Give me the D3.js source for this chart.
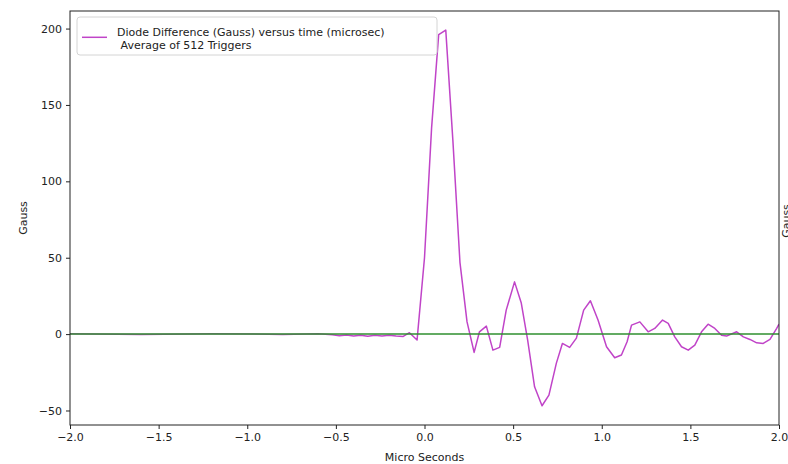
<!DOCTYPE html>
<html>
<head>
<meta charset="utf-8">
<script src="https://cdn.jsdelivr.net/npm/d3@7"></script>
<style>
  body { margin: 0; background: #fff; }
  text { font-family: "DejaVu Sans", sans-serif; }
</style>
</head>
<body>
<div id="vis"></div>
<script>
// sample times (microsec) and diode difference (Gauss)
var times = [
  -2.0, -1.6, -1.2, -0.8, -0.6, -0.52, -0.48, -0.44, -0.40, -0.36, -0.32, -0.28,
  -0.24, -0.20, -0.16, -0.12, -0.085, -0.042,
  0.0, 0.04, 0.08, 0.12, 0.16, 0.20, 0.24, 0.28, 0.31, 0.349, 0.386, 0.424,
  0.461, 0.508, 0.546, 0.582, 0.621, 0.663, 0.702, 0.744, 0.778, 0.819, 0.857,
  0.898, 0.936, 0.979, 1.027, 1.073, 1.111, 1.143, 1.168, 1.215, 1.262, 1.299,
  1.343, 1.375, 1.412, 1.45, 1.488, 1.525, 1.563, 1.6, 1.638, 1.676, 1.704,
  1.761, 1.799, 1.836, 1.874, 1.911, 1.949, 1.987, 2.0
];
var gauss = [
  0.2, -0.2, 0.3, -0.2, 0.2, -0.5, -1.0, -0.6, -1.3, -0.7, -1.4, -0.8,
  -1.2, -0.7, -1.3, -1.5, 0.9, -3.9,
  50, 135, 196, 199, 127, 47, 8, -12, 1.5, 5.2, -10.5, -8.7,
  15.7, 34.2, 20.3, -4, -34.5, -46.9, -39.9, -19, -6.1, -8.7, -2.6,
  15.7, 21.8, 9.2, -8.3, -15.5, -13.7, -5, 5.9, 8, 1.5, 3.7,
  9.2, 7, -1.8, -8.3, -10.5, -7.2, 1.5, 6.5, 3.7, -0.7, -1.3,
  1.5, -1.8, -3.5, -5.7, -6.1, -3.5, 3.7, 6.5
];
var xTicks = [-2.0, -1.5, -1.0, -0.5, 0.0, 0.5, 1.0, 1.5, 2.0];
var yTicks = [-50, 0, 50, 100, 150, 200];
var legendLines = ['Diode Difference (Gauss) versus time (microsec)', ' Average of 512 Triggers'];

var width = 788, height = 464;
var plot = { left: 70, right: 779, top: 11, bottom: 425 };

var x = d3.scaleLinear().domain([-2, 2]).range([plot.left, plot.right]);
var y = d3.scaleLinear().domain([-59.5, 211.5]).range([plot.bottom, plot.top]);

var svg = d3.select('#vis').append('svg')
  .attr('width', width)
  .attr('height', height);

var data = times.map(function (t, i) { return { t: t, v: gauss[i] }; });

svg.append('defs').append('clipPath').attr('id', 'clip')
  .append('rect')
  .attr('x', plot.left).attr('y', plot.top)
  .attr('width', plot.right - plot.left)
  .attr('height', plot.bottom - plot.top);

var line = d3.line()
  .x(function (d) { return x(d.t); })
  .y(function (d) { return y(d.v); });

svg.append('path')
  .datum(data)
  .attr('clip-path', 'url(#clip)')
  .attr('fill', 'none')
  .attr('stroke', '#c044c8')
  .attr('stroke-width', 1.5)
  .attr('stroke-linejoin', 'round')
  .attr('d', line);

// zero line, drawn over the trace
svg.append('line')
  .attr('x1', x(-2)).attr('x2', x(2))
  .attr('y1', y(0)).attr('y2', y(0))
  .attr('stroke', '#2f8f2f')
  .attr('stroke-width', 1.5);

var fmt = d3.format('.1f');

var xAxis = svg.append('g')
  .attr('transform', 'translate(0,' + plot.bottom + ')')
  .call(d3.axisBottom(x).tickValues(xTicks).tickFormat(fmt).tickSize(4).tickPadding(4).tickSizeOuter(0));

var yAxis = svg.append('g')
  .attr('transform', 'translate(' + plot.left + ',0)')
  .call(d3.axisLeft(y).tickValues(yTicks).tickSize(4).tickPadding(4).tickSizeOuter(0));

[xAxis, yAxis].forEach(function (g) {
  g.select('.domain').remove();
  g.selectAll('line').attr('stroke', '#222');
  g.selectAll('text').attr('fill', '#222').style('font-size', '11px')
    .style('font-family', '"DejaVu Sans", sans-serif');
});

// frame
svg.append('rect')
  .attr('x', plot.left).attr('y', plot.top)
  .attr('width', plot.right - plot.left)
  .attr('height', plot.bottom - plot.top)
  .attr('fill', 'none')
  .attr('stroke', '#222')
  .attr('stroke-width', 1);

svg.append('text')
  .attr('x', (plot.left + plot.right) / 2)
  .attr('y', 461)
  .attr('text-anchor', 'middle')
  .attr('fill', '#222')
  .style('font-size', '11px')
  .text('Micro Seconds');

svg.append('text')
  .attr('transform', 'translate(27,' + (plot.top + plot.bottom) / 2 + ') rotate(-90)')
  .attr('text-anchor', 'middle')
  .attr('fill', '#222')
  .style('font-size', '11px')
  .text('Gauss');

// twin axis label, mostly cut off at the right edge as in the original
svg.append('text')
  .attr('transform', 'translate(790,221) rotate(-90)')
  .attr('text-anchor', 'middle')
  .attr('fill', '#222')
  .style('font-size', '11px')
  .text('Gauss');

// legend
var legend = svg.append('g').attr('transform', 'translate(77,17)');
legend.append('rect')
  .attr('width', 360).attr('height', 38)
  .attr('rx', 3)
  .attr('fill', 'rgba(255,255,255,0.8)')
  .attr('stroke', '#d4d4d4')
  .attr('stroke-width', 1);
legend.append('line')
  .attr('x1', 5).attr('x2', 30)
  .attr('y1', 20.3).attr('y2', 20.3)
  .attr('stroke', '#c044c8')
  .attr('stroke-width', 1.5);
legend.selectAll('text.lg')
  .data(legendLines)
  .enter().append('text')
  .attr('class', 'lg')
  .attr('x', 40)
  .attr('y', function (d, i) { return 19 + i * 13; })
  .attr('fill', '#222')
  .style('font-size', '11px')
  .style('white-space', 'pre')
  .attr('xml:space', 'preserve')
  .text(function (d) { return d; });
</script>
</body>
</html>
